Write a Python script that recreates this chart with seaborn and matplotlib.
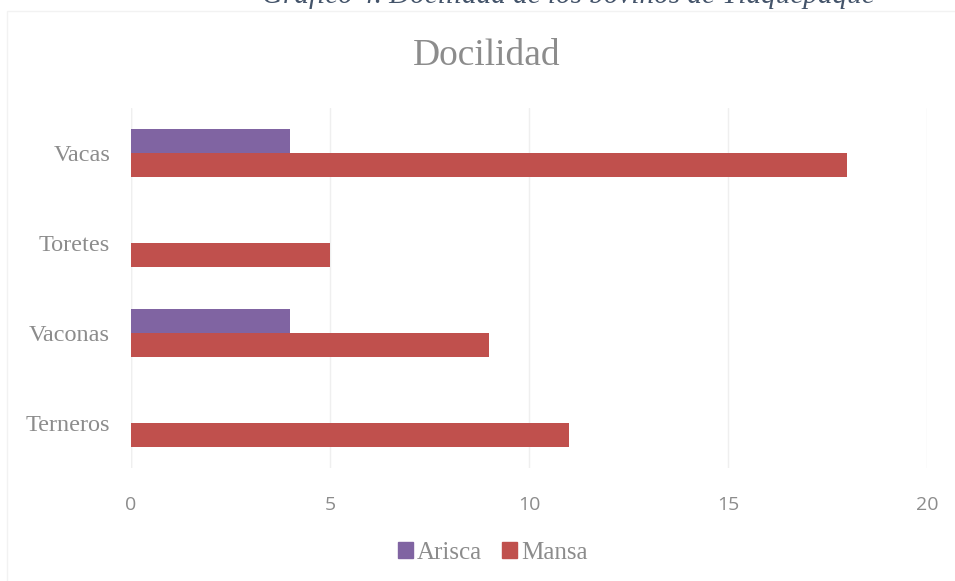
import pandas as pd
import seaborn as sns
import matplotlib.pyplot as plt
from matplotlib.patches import Rectangle

# datos de la gráfica
categorias = ['Vacas', 'Toretes', 'Vaconas', 'Terneros']
arisca = [4, 0, 4, 0]
mansa = [18, 5, 9, 11]
series = ['Arisca', 'Mansa']
colores = ['#8064A2', '#C0504D']
ticks_x = [0, 5, 10, 15, 20]

df = pd.DataFrame({
    'Categoria': categorias * 2,
    'Docilidad': ['Arisca'] * len(categorias) + ['Mansa'] * len(categorias),
    'Valor': arisca + mansa,
})

sns.set_theme(style='white')
plt.rcParams['font.family'] = ['Liberation Serif', 'DejaVu Serif']

fig = plt.figure(figsize=(9.55, 5.81), dpi=100)
ax = fig.add_axes([0.1372, 0.1945, 0.8335, 0.6196])

sns.barplot(data=df, y='Categoria', x='Valor', hue='Docilidad',
            order=categorias, hue_order=series, palette=colores,
            width=0.533, orient='h', saturation=1, linewidth=0,
            ax=ax, legend=False)

ax.set_xlim(0, 20)
ax.set_ylim(3.5, -0.5)
ax.set_xticks(ticks_x)
ax.xaxis.grid(True, color='#efefef', linewidth=1)
ax.set_axisbelow(True)
for s in ax.spines.values():
    s.set_visible(False)
ax.axvline(0, color='#efefef', linewidth=1, zorder=0)

ax.set_xlabel('')
ax.set_ylabel('')
ax.tick_params(axis='x', length=0, pad=20, labelsize=14, colors='#8c8c8c')
for lbl in ax.get_xticklabels():
    lbl.set_fontfamily('Open Sans')
ax.tick_params(axis='y', length=0, pad=15, labelsize=17.5, colors='#8c8c8c')

# marco del gráfico
fig.patches.append(Rectangle((7 / 955, -0.01), 1.02, 1 - 11 / 581 + 0.01,
                             transform=fig.transFigure, fill=False,
                             edgecolor='#f2f2f2', linewidth=1))

# título del documento, recortado en el borde superior como en el original
fig.text(0.595, 1 - 3 / 581, 'Gráfico 4. Docilidad de los bovinos de Tlaquepaque',
         ha='center', va='baseline', fontsize=21, style='italic',
         color='#44546A')

fig.text(0.51, 1 - 56 / 581, 'Docilidad', ha='center', va='center',
         fontsize=27, color='#8c8c8c')

handles = [Rectangle((0, 0), 1, 1, color=c) for c in colores]
fig.legend(handles, series, loc='center', bbox_to_anchor=(0.516, 1 - 553 / 581),
           ncol=2, frameon=False, fontsize=18, handlelength=0.6,
           handleheight=0.6, handletextpad=0.15, columnspacing=0.8,
           labelcolor='#8c8c8c')

fig.savefig('out.png', dpi=100)
